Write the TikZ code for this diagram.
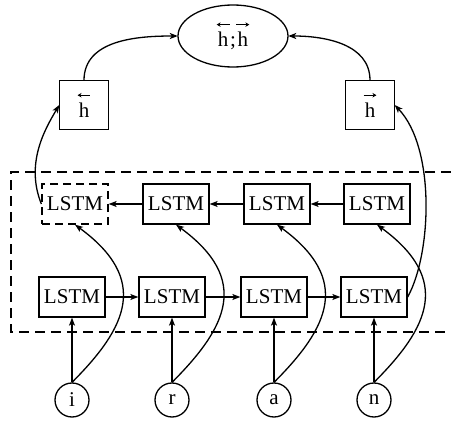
\documentclass[tikz,border=0pt]{standalone}
\usepackage{fontspec}
\setmainfont{Liberation Serif}
\usetikzlibrary{shapes.geometric,arrows.meta}
\newcommand{\harw}[1]{\vbox{\offinterlineskip\halign{\hfil##\hfil\cr\tikz[baseline=0pt]\draw[#1,line width=0.9pt] (0pt,0pt)--(13pt,0pt);\cr\noalign{\kern5pt}h\cr}}}
\begin{document}
\begin{tikzpicture}[x=1pt,y=-1pt,line width=1.3pt,
  txt/.style={font=\fontsize{21}{24}\selectfont},
  lstm/.style={draw,txt,minimum width=66pt,minimum height=40pt,inner sep=0pt},
  hbox/.style={draw,txt,minimum width=49pt,minimum height=49pt,inner sep=0pt},
  ell/.style={draw,ellipse,txt,minimum width=110pt,minimum height=62pt,inner sep=0pt},
  inp/.style={draw,circle,txt,minimum size=34pt,inner sep=0pt},
  frame/.style={dash pattern=on 10pt off 6pt},
  dbox/.style={dash pattern=on 8pt off 5pt},
  arr/.style={-{Stealth[length=8pt,width=6pt,inset=2pt]}}]
\useasboundingbox (0,0) rectangle (451,423);
% frame
\draw[frame] (451,172) -- (11,172) -- (11,332) -- (451,332);
% top nodes
\node[ell] (e) at (233,36) {\harw{{Stealth[length=4pt,width=4.5pt]}-}\hbox{;}\harw{-{Stealth[length=4pt,width=4.5pt]}}};
\node[hbox] (hl) at (84,105) {\harw{{Stealth[length=4pt,width=4.5pt]}-}};
\node[hbox] (hr) at (370,105) {\harw{-{Stealth[length=4pt,width=4.5pt]}}};
% backward LSTMs
\node[lstm,dbox] (t1) at (75,204) {LSTM};
\node[lstm] (t2) at (176,204) {LSTM};
\node[lstm] (t3) at (277,204) {LSTM};
\node[lstm] (t4) at (377,204) {LSTM};
% forward LSTMs
\node[lstm] (b1) at (72,297) {LSTM};
\node[lstm] (b2) at (172,297) {LSTM};
\node[lstm] (b3) at (274,297) {LSTM};
\node[lstm] (b4) at (374,297) {LSTM};
% inputs
\node[inp] (c1) at (72,400) {i};
\node[inp] (c2) at (172,400) {r};
\node[inp] (c3) at (274,400) {a};
\node[inp] (c4) at (374,400) {n};
% chains
\draw[arr] (t4) -- (t3);
\draw[arr] (t3) -- (t2);
\draw[arr] (t2) -- (t1);
\draw[arr] (b1) -- (b2);
\draw[arr] (b2) -- (b3);
\draw[arr] (b3) -- (b4);
% inputs to LSTMs
\foreach \i in {1,2,3,4}{
  \draw[arr] (c\i.north) -- (b\i.south);
  \draw[arr] (c\i.north) .. controls +(55,-55) and +(75,55) .. (t\i.south);
}
% outputs
\draw[arr] (t1.west) .. controls +(-16,-40) and +(-15,25) .. (hl.west);
\draw[arr] (b4.east) .. controls +(24,-43) and +(41,43) .. (hr.east);
\draw[arr] (hl.north) to[out=90,in=180] (e.west);
\draw[arr] (hr.north) to[out=90,in=0] (e.east);
\end{tikzpicture}
\end{document}
